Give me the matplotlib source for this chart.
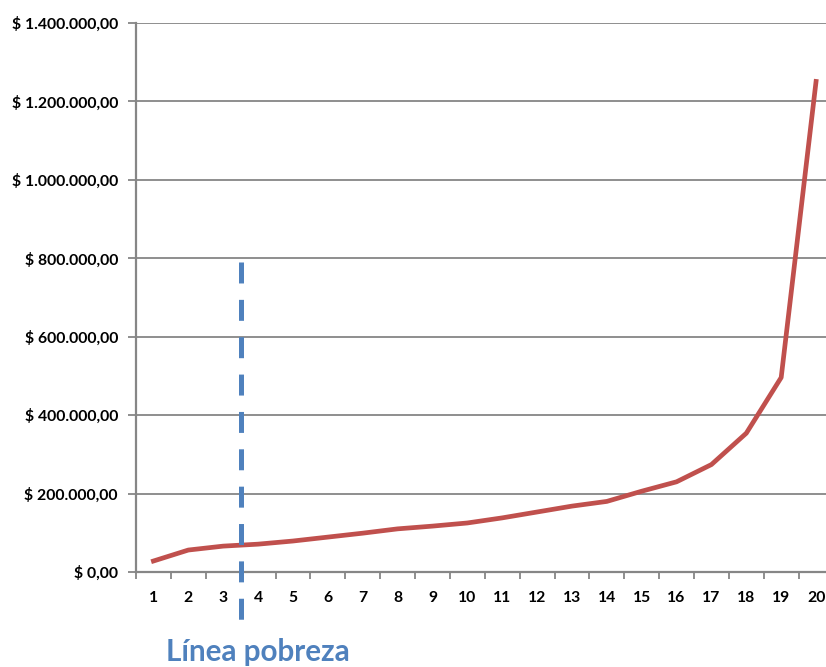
import matplotlib.pyplot as plt
from matplotlib.ticker import FuncFormatter

# data
categories = list(range(1, 21))
values = [28000, 56000, 66000, 71000, 79000, 89000, 99000, 110000, 117000, 125000,
          138000, 153000, 168000, 180000, 206000, 230000, 274000, 354000, 496000, 1251000]
yticks = [0, 200000, 400000, 600000, 800000, 1000000, 1200000, 1400000]
poverty_x = 3.5
poverty_top = 790000
poverty_bottom = -127000
poverty_label = 'Línea pobreza'

red = '#C0504D'
blue = '#4F81BD'
grey = '#868686'

def money(x, pos):
    s = '{:,.2f}'.format(x)
    s = s.replace(',', 'X').replace('.', ',').replace('X', '.')
    return '$ ' + s

fig = plt.figure(figsize=(8.26, 6.67), dpi=100)
ax = fig.add_axes([136 / 826, 95 / 667, (833.5 - 136) / 826, 549 / 667])

ax.plot(categories, values, color=red, lw=3.4, solid_joinstyle='round', zorder=3)

lw = 3.6
ax.plot([poverty_x, poverty_x], [poverty_top, poverty_bottom], color=blue, lw=lw,
        dashes=(15.1 / lw, 11.8 / lw), clip_on=False, zorder=4)

ax.set_xlim(0.5, 20.5)
ax.set_ylim(0, 1400000)
ax.set_yticks(yticks)
ax.yaxis.set_major_formatter(FuncFormatter(money))
ax.set_xticks(categories)
ax.set_xticks([c + 0.5 for c in [0] + categories], minor=True)
ax.tick_params(axis='x', which='major', length=0, pad=14)
ax.tick_params(axis='x', which='minor', length=5, color=grey, width=1.3, direction='out')
ax.tick_params(axis='y', length=6, color=grey, width=1.3, pad=7)

for lab in ax.get_xticklabels() + ax.get_yticklabels():
    lab.set_fontfamily('Lato')
    lab.set_fontweight('bold')
    lab.set_fontsize(11.3)

ax.grid(axis='y', color=grey, lw=1.3)
ax.set_axisbelow(True)
for side in ['top', 'right']:
    ax.spines[side].set_visible(False)
ax.spines['left'].set_color(grey)
ax.spines['left'].set_linewidth(1.6)
ax.spines['bottom'].set_color(grey)
ax.spines['bottom'].set_linewidth(1.6)

fig.text(258 / 826, 1 - 652 / 667, poverty_label, color=blue, fontsize=21.3,
         fontweight='bold', family='Lato', ha='center', va='center')

fig.savefig('out.png', dpi=100)
